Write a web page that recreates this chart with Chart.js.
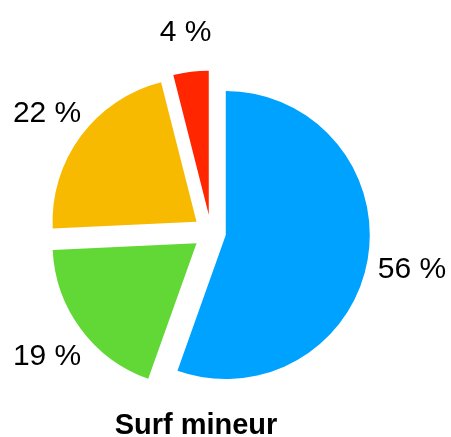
<!DOCTYPE html>
<html lang="fr">
<head>
    <meta charset="UTF-8">
    <title>Surf mineur</title>
    <script src="https://cdn.jsdelivr.net/npm/chart.js"></script>
    <style>
        html, body { margin: 0; padding: 0; background: #fff; }
        #wrap { width: 451px; height: 437px; position: relative; }
    </style>
</head>
<body>
    <div id="wrap"><canvas id="pieChart"></canvas></div>

    <script>
        // data
        const categories = ['Bleu', 'Vert', 'Jaune', 'Rouge'];
        const values = [56, 19, 22, 4];
        const colors = ['#00A2FF', '#61D836', '#F8BA00', '#FF2600'];
        const title = 'Surf mineur';

        const RADIUS = 144;

        // Chart.js grows big exploded slices by offset/4 * (1 - sin(circ))
        // and trims their arc a bit; undo both so slices keep the same shape
        const evenRadius = {
            id: 'evenRadius',
            afterDatasetUpdate(chart, args) {
                args.meta.data.forEach((arc) => {
                    const fix = 1 - Math.sin(Math.min(Math.PI, arc.circumference));
                    const grow = (arc.options.offset / 4) * fix;
                    arc.outerRadius = RADIUS - grow;
                    const trim = grow / (Math.PI * RADIUS) / 2;
                    arc.startAngle -= trim;
                    arc.endAngle += trim;
                });
            }
        };

        // percent labels outside each slice + title underneath
        const pieLabels = {
            id: 'pieLabels',
            afterDatasetsDraw(chart) {
                const ctx = chart.ctx;
                const arcs = chart.getDatasetMeta(0).data;
                ctx.save();
                ctx.fillStyle = '#000';
                ctx.font = '30px "Liberation Sans", Arial, sans-serif';
                ctx.textAlign = 'center';
                ctx.textBaseline = 'alphabetic';
                arcs.forEach((arc, i) => {
                    const mid = (arc.startAngle + arc.endAngle) / 2;
                    const r = RADIUS + 60;
                    const x = arc.x + Math.cos(mid) * r;
                    const y = arc.y + Math.sin(mid) * r;
                    ctx.fillText(values[i] + ' %', x, y + 10.7);
                });
                ctx.font = 'bold 29px "Liberation Sans", Arial, sans-serif';
                const area = chart.chartArea;
                ctx.fillText(title, (area.left + area.right) / 2 - 15, 434);
                ctx.restore();
            }
        };

        new Chart(document.getElementById('pieChart'), {
            type: 'pie',
            data: {
                labels: categories,
                datasets: [{
                    data: values,
                    backgroundColor: colors,
                    borderWidth: 0,
                    radius: RADIUS,
                    offset: (c) => c.dataIndex === 0 ? 60 : 72
                }]
            },
            options: {
                responsive: true,
                maintainAspectRatio: false,
                animation: false,
                events: [],
                layout: { padding: { left: 0, right: 29, top: 28, bottom: 0 } },
                plugins: {
                    legend: { display: false },
                    tooltip: { enabled: false }
                }
            },
            plugins: [evenRadius, pieLabels]
        });
    </script>
</body>
</html>
